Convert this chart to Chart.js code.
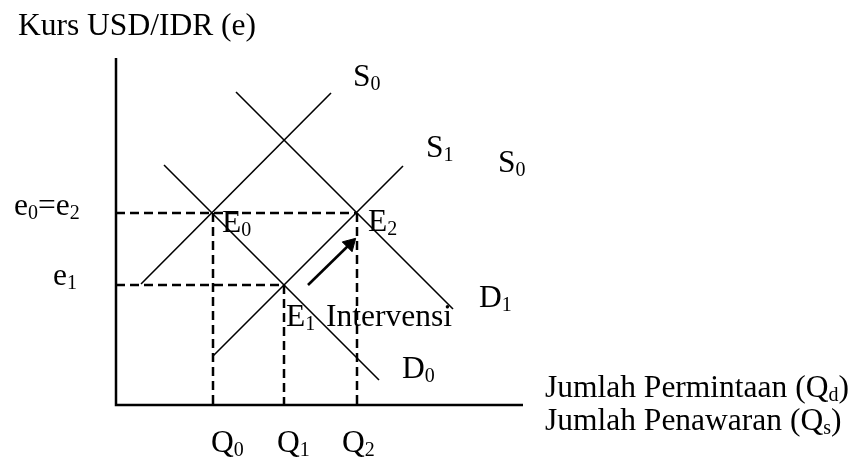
<!DOCTYPE html>
<html>
<head>
<meta charset="utf-8">
<script src="https://cdn.jsdelivr.net/npm/chart.js@4"></script>
<style>
  html, body { margin: 0; padding: 0; background: #fff; }
  #wrap { width: 855px; height: 461px; position: relative; }
</style>
</head>
<body>
<div id="wrap"><canvas id="chart"></canvas></div>
<script>
// quantities on the horizontal axis (Q0, Q1, Q2) and exchange rates (e0=e2, e1)
const quantities = [9.7, 16.8, 24.1];
const rates = [19.2, 12.0];

// curve end points
const supply0 = [{ x: 2.5, y: 12.1 }, { x: 21.5, y: 31.2 }];
const supply1 = [{ x: 9.7, y: 4.9 }, { x: 28.7, y: 23.9 }];
const demand0 = [{ x: 4.8, y: 24.0 }, { x: 26.3, y: 2.5 }];
const demand1 = [{ x: 12.0, y: 31.3 }, { x: 33.7, y: 9.6 }];
const arrow = [{ x: 19.2, y: 12.0 }, { x: 23.4, y: 16.1 }];
const axisEnd = { x: 40.7, y: 34.7 };

// text labels: runs of [text, subscript]
const labels = [
  { runs: [['Kurs USD/IDR (e)', '']], x: -9.8, y: 37.0 },
  { runs: [['S', '0']], x: 23.7, y: 31.9 },
  { runs: [['S', '1']], x: 31.0, y: 24.8 },
  { runs: [['S', '0']], x: 38.2, y: 23.3 },
  { runs: [['E', '0']], x: 10.6, y: 17.3 },
  { runs: [['E', '2']], x: 25.2, y: 17.4 },
  { runs: [['E', '1']], x: 17.0, y: 7.9 },
  { runs: [['Intervensi', '']], x: 21.0, y: 7.9 },
  { runs: [['D', '1']], x: 36.3, y: 9.8 },
  { runs: [['D', '0']], x: 28.6, y: 2.7 },
  { runs: [['Q', '0']], x: 9.5, y: -4.7 },
  { runs: [['Q', '1']], x: 16.1, y: -4.7 },
  { runs: [['Q', '2']], x: 22.6, y: -4.7 },
  { runs: [['e', '0'], ['=e', '2']], x: -10.2, y: 19.0 },
  { runs: [['e', '1']], x: -6.3, y: 12.0 },
  { runs: [['Jumlah Permintaan (Q', 'd'], [')', '']], x: 42.9, y: 0.8 },
  { runs: [['Jumlah Penawaran (Q', 's'], [')', '']], x: 42.9, y: -2.5 }
];

const FONT = '"Liberation Serif", "Times New Roman", serif';
const SIZE = 31.5;
const SUB = 20;

const solid = (data, width) => ({
  data, showLine: true, borderColor: '#000', borderWidth: width,
  pointRadius: 0, fill: false
});
const dashed = (data) => ({
  data, showLine: true, borderColor: '#000', borderWidth: 2.5,
  borderDash: [9, 5], pointRadius: 0, fill: false
});

const [q0, q1, q2] = quantities;
const [eHigh, eLow] = rates;

const datasets = [
  solid([{ x: 0, y: axisEnd.y }, { x: 0, y: 0 }, { x: axisEnd.x, y: 0 }], 2.5),
  dashed([{ x: 0, y: eHigh }, { x: q2, y: eHigh }]),
  dashed([{ x: 0, y: eLow }, { x: q1, y: eLow }]),
  dashed([{ x: q0, y: eHigh }, { x: q0, y: 0 }]),
  dashed([{ x: q1, y: eLow }, { x: q1, y: 0 }]),
  dashed([{ x: q2, y: eHigh }, { x: q2, y: 0 }]),
  solid(supply0, 1.6),
  solid(supply1, 1.6),
  solid(demand0, 1.6),
  solid(demand1, 1.6),
  {
    data: arrow, showLine: true, borderColor: '#000', borderWidth: 2.6,
    pointRadius: [0, 8], pointStyle: 'triangle', pointRotation: 45,
    pointBackgroundColor: '#000', pointBorderColor: '#000', pointBorderWidth: 1
  }
];

const textPlugin = {
  id: 'textLabels',
  afterDraw(chart) {
    const { ctx, scales } = chart;
    ctx.save();
    ctx.fillStyle = '#000';
    ctx.textBaseline = 'alphabetic';
    ctx.textAlign = 'left';
    labels.forEach(l => {
      let px = scales.x.getPixelForValue(l.x);
      const py = scales.y.getPixelForValue(l.y);
      l.runs.forEach(([txt, sub]) => {
        ctx.font = SIZE + 'px ' + FONT;
        ctx.fillText(txt, px, py);
        px += ctx.measureText(txt).width;
        if (sub) {
          ctx.font = SUB + 'px ' + FONT;
          ctx.fillText(sub, px, py + 4);
          px += ctx.measureText(sub).width;
        }
      });
    });
    ctx.restore();
  }
};

new Chart(document.getElementById('chart'), {
  type: 'scatter',
  data: { datasets },
  options: {
    responsive: true,
    maintainAspectRatio: false,
    animation: false,
    events: [],
    layout: { padding: { left: 116, right: 329, top: 55, bottom: 56 } },
    scales: {
      x: { type: 'linear', min: 0, max: 41, display: false },
      y: { type: 'linear', min: 0, max: 35, display: false }
    },
    plugins: {
      legend: { display: false },
      tooltip: { enabled: false }
    },
    elements: { line: { tension: 0 } },
    clip: false
  },
  plugins: [textPlugin]
});
</script>
</body>
</html>
